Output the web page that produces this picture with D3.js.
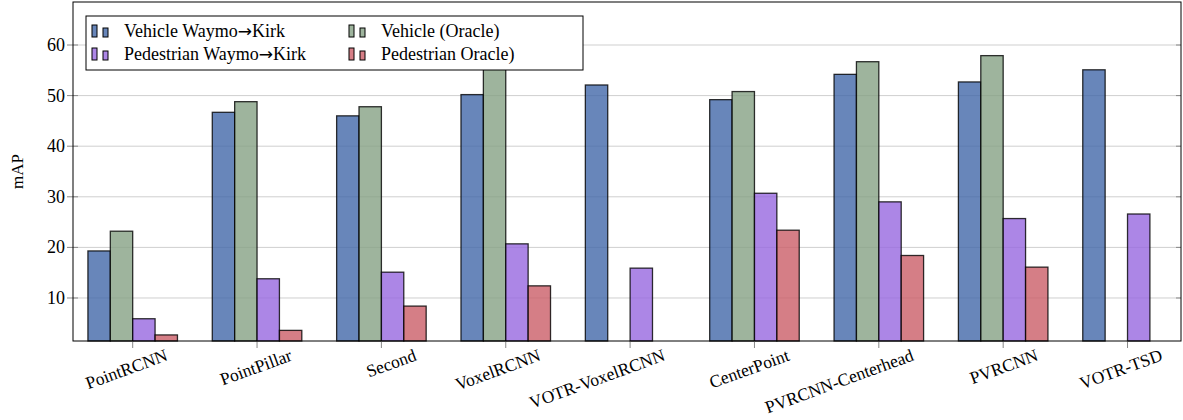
<!DOCTYPE html>
<html>
<head>
<meta charset="utf-8">
<script src="https://cdn.jsdelivr.net/npm/d3@7"></script>
<style>
  body { margin: 0; background: #fff; }
  text { font-family: "Liberation Serif", "Times New Roman", serif; fill: #000; }
</style>
</head>
<body>
<svg id="chart" width="1183" height="420"></svg>
<script>
// data
const categories = ['PointRCNN', 'PointPillar', 'Second', 'VoxelRCNN', 'VOTR-VoxelRCNN',
  'CenterPoint', 'PVRCNN-Centerhead', 'PVRCNN', 'VOTR-TSD'];
const vehicleTransfer = [19.3, 46.7, 46.0, 50.2, 52.1, 49.2, 54.2, 52.7, 55.1];
const vehicleOracle = [23.2, 48.8, 47.8, 57.0, null, 50.8, 56.7, 57.9, null];
const pedestrianTransfer = [5.9, 13.8, 15.1, 20.7, 15.9, 30.7, 29.0, 25.7, 26.6];
const pedestrianOracle = [2.7, 3.6, 8.4, 12.4, null, 23.4, 18.4, 16.1, null];
const seriesNames = ['Vehicle Waymo\u2192Kirk', 'Vehicle (Oracle)', 'Pedestrian Waymo\u2192Kirk', 'Pedestrian Oracle)'];
const yTicks = [10, 20, 30, 40, 50, 60];

const series = [vehicleTransfer, vehicleOracle, pedestrianTransfer, pedestrianOracle];
const colors = ['rgb(66,104,169)', 'rgb(134,161,133)', 'rgb(151,104,224)', 'rgb(203,94,104)'];

const svg = d3.select('#chart');
const pl = 73, pr = 1181, pt = 2, pb = 341;

const x = d3.scaleLinear().domain([-0.48, 8.43]).range([pl, pr]);
const y = d3.scaleLinear().domain([1.5, 68.5]).range([pb, pt]);
const bw = (x(1) - x(0)) * 0.18;

// grid
svg.append('g').selectAll('line').data(yTicks).join('line')
  .attr('x1', pl).attr('x2', pr)
  .attr('y1', d => y(d)).attr('y2', d => y(d))
  .attr('stroke', '#cfcfcf').attr('stroke-width', 1);

// bars
series.forEach((vals, k) => {
  svg.append('g').selectAll('rect')
    .data(vals.map((v, i) => ({ v, i })).filter(d => d.v != null))
    .join('rect')
    .attr('x', d => x(d.i) + (k - 2) * bw)
    .attr('width', bw)
    .attr('y', d => y(d.v))
    .attr('height', d => pb - y(d.v))
    .attr('fill', colors[k]).attr('fill-opacity', 0.8)
    .attr('stroke', '#000').attr('stroke-opacity', 0.8).attr('stroke-width', 1.3);
});

// y ticks
svg.append('g').selectAll('line').data(yTicks).join('line')
  .attr('x1', pl - 6).attr('x2', pl + 5)
  .attr('y1', d => y(d)).attr('y2', d => y(d))
  .attr('stroke', '#888');
svg.append('g').selectAll('line').data(yTicks).join('line')
  .attr('x1', pr - 5).attr('x2', pr)
  .attr('y1', d => y(d)).attr('y2', d => y(d))
  .attr('stroke', '#888');
svg.append('g').selectAll('text').data(yTicks).join('text')
  .attr('x', pl - 8).attr('y', d => y(d))
  .attr('text-anchor', 'end').attr('dominant-baseline', 'central')
  .attr('font-size', 18).text(d => d);

// x ticks
svg.append('g').selectAll('line').data(categories).join('line')
  .attr('x1', (d, i) => x(i)).attr('x2', (d, i) => x(i))
  .attr('y1', pb).attr('y2', pb + 7)
  .attr('stroke', '#888');
svg.append('g').selectAll('text').data(categories).join('text')
  .attr('text-anchor', 'end')
  .attr('font-size', 17.5)
  .attr('transform', (d, i) => `translate(${x(i) + 36},360) rotate(-20)`)
  .text(d => d);

// frame
svg.append('rect')
  .attr('x', pl).attr('y', pt).attr('width', pr - pl).attr('height', pb - pt)
  .attr('fill', 'none').attr('stroke', '#000').attr('stroke-width', 1);

// y label
svg.append('text')
  .attr('transform', `translate(23,${(pt + pb) / 2}) rotate(-90)`)
  .attr('text-anchor', 'middle').attr('font-size', 17)
  .text('mAP');

// legend
const lg = svg.append('g').attr('transform', 'translate(86,16)');
lg.append('rect').attr('width', 497).attr('height', 54)
  .attr('fill', '#fff').attr('stroke', '#000').attr('stroke-width', 1);
seriesNames.forEach((name, k) => {
  const col = k % 2, row = Math.floor(k / 2);
  const g = lg.append('g').attr('transform', `translate(${6 + col * 257},${21 + row * 23})`);
  g.append('rect').attr('x', 0).attr('y', -12).attr('width', 5).attr('height', 12)
    .attr('fill', colors[k]).attr('fill-opacity', 0.8).attr('stroke', '#000').attr('stroke-width', 1);
  g.append('rect').attr('x', 11).attr('y', -9).attr('width', 5).attr('height', 9)
    .attr('fill', colors[k]).attr('fill-opacity', 0.8).attr('stroke', '#000').attr('stroke-width', 1);
  const t = g.append('text').attr('x', 32).attr('y', 0).attr('font-size', 18);
  name.split('\u2192').forEach((part, j) => {
    if (j > 0) t.append('tspan').style('font-family', '"DejaVu Sans"').attr('font-size', 17).text('\u2192');
    t.append('tspan').text(part);
  });
});
</script>
</body>
</html>
